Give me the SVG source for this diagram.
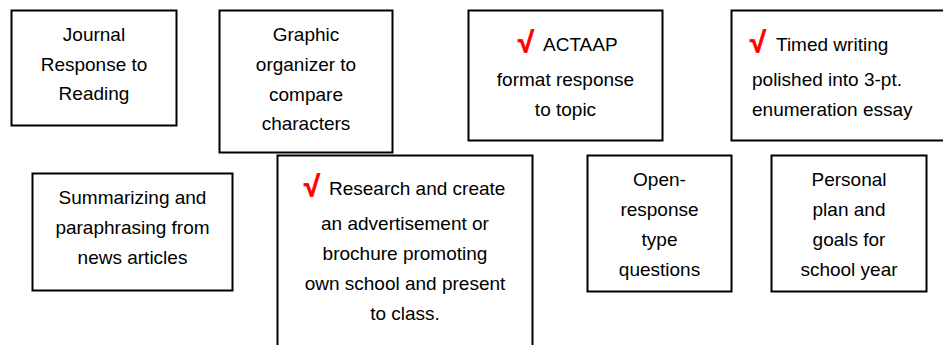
<svg xmlns="http://www.w3.org/2000/svg" width="943" height="345" viewBox="0 0 943 345">
<style>
rect.box { fill: #fff; stroke: #000; stroke-width: 2; }
text { font-family: "Liberation Sans", Arial, sans-serif; font-size: 19px; fill: #000; }
text.c { text-anchor: middle; }
text.chk { fill: #f00; stroke: #f00; stroke-width: 0.8; font-weight: bold; font-size: 29px; }
</style>
<rect width="943" height="345" fill="#fff"/>
<g id="connectors"/>
<g id="journal">
  <rect class="box" x="11.5" y="10.5" width="165" height="115"/>
  <text class="c" x="94" y="41">Journal</text>
  <text class="c" x="94" y="71">Response to</text>
  <text class="c" x="94" y="100">Reading</text>
</g>
<g id="graphic">
  <rect class="box" x="219.5" y="10.5" width="173" height="142"/>
  <text class="c" x="306" y="41">Graphic</text>
  <text class="c" x="306" y="71">organizer to</text>
  <text class="c" x="306" y="101">compare</text>
  <text class="c" x="306" y="130">characters</text>
</g>
<g id="actaap">
  <rect class="box" x="468.5" y="10.5" width="194" height="130"/>
  <text class="chk" x="518" y="52">√</text>
  <text x="543" y="51">ACTAAP</text>
  <text class="c" x="565.5" y="86">format response</text>
  <text class="c" x="565.5" y="116">to topic</text>
</g>
<g id="timed">
  <rect class="box" x="731.5" y="10.5" width="220" height="130"/>
  <text class="chk" x="750" y="52">√</text>
  <text x="776" y="51">Timed writing</text>
  <text x="752" y="86">polished into 3-pt.</text>
  <text x="752" y="116">enumeration essay</text>
</g>
<g id="summarizing">
  <rect class="box" x="32.5" y="173.5" width="200" height="117"/>
  <text class="c" x="132.5" y="204">Summarizing and</text>
  <text class="c" x="132.5" y="234">paraphrasing from</text>
  <text class="c" x="132.5" y="264">news articles</text>
</g>
<g id="research">
  <rect class="box" x="277.5" y="155.5" width="255" height="210"/>
  <text class="chk" x="304" y="196">√</text>
  <text x="329" y="195">Research and create</text>
  <text class="c" x="405" y="230">an advertisement or</text>
  <text class="c" x="405" y="260">brochure promoting</text>
  <text class="c" x="405" y="290">own school and present</text>
  <text class="c" x="405" y="320">to class.</text>
</g>
<g id="open">
  <rect class="box" x="587.5" y="155.5" width="144" height="136"/>
  <text class="c" x="659.5" y="186">Open-</text>
  <text class="c" x="659.5" y="216">response</text>
  <text class="c" x="659.5" y="246">type</text>
  <text class="c" x="659.5" y="276">questions</text>
</g>
<g id="personal">
  <rect class="box" x="771.5" y="155.5" width="155" height="136"/>
  <text class="c" x="849" y="186">Personal</text>
  <text class="c" x="849" y="216">plan and</text>
  <text class="c" x="849" y="246">goals for</text>
  <text class="c" x="849" y="276">school year</text>
</g>
</svg>
